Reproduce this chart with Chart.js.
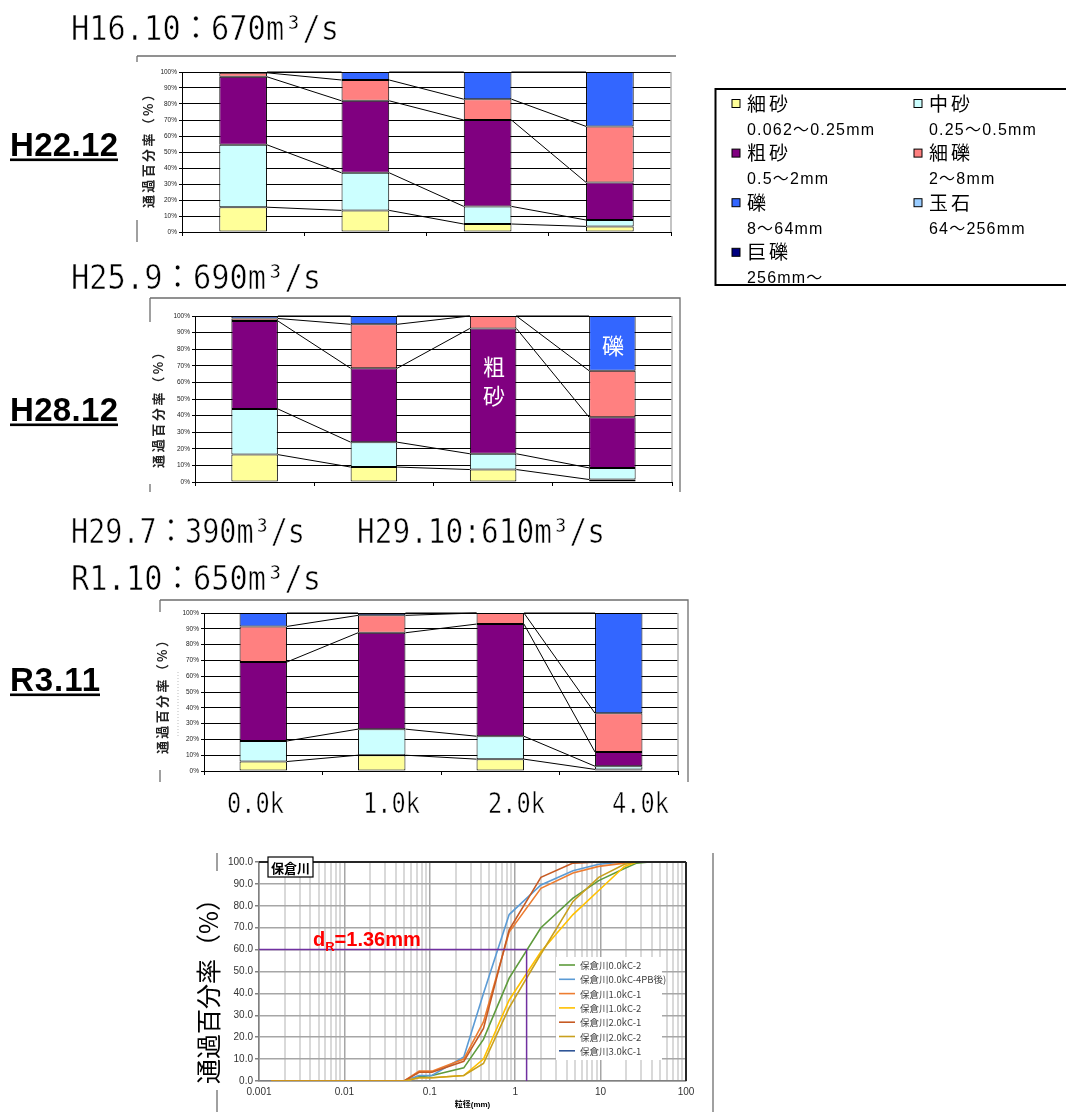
<!DOCTYPE html>
<html lang="ja">
<head>
<meta charset="utf-8">
<title>保倉川 河床材料の粒度構成</title>
<script src="https://cdn.jsdelivr.net/npm/chart.js@4.4.1/dist/chart.umd.min.js"></script>
<style>
  html, body { margin: 0; padding: 0; background: #fff; }
  #page { position: relative; width: 1066px; height: 1112px; overflow: hidden; background: #fff; }
  #page canvas { position: absolute; }
  #overlay { position: absolute; left: 0; top: 0; }
</style>
</head>
<body>
<div id="page">
  <canvas id="mixH22" width="540" height="186" style="left:140px;top:62px"></canvas>
  <canvas id="mixH28" width="530" height="188" style="left:150px;top:304px"></canvas>
  <canvas id="mixR3" width="526" height="182" style="left:160px;top:602px"></canvas>
  <canvas id="grading" width="492" height="262" style="left:220px;top:850px"></canvas>

  <svg id="overlay" width="1066" height="1112" xmlns="http://www.w3.org/2000/svg">
    <!-- 出水の見出し (白い縁で字を少し細く見せる) -->
    <g font-family="'DejaVu Sans Mono', 'Noto Sans CJK JP', monospace" font-size="34" fill="#000"
       stroke="#fff" stroke-width="0.6">
      <text x="71" y="40" textLength="268" lengthAdjust="spacingAndGlyphs">H16.10：670m³/s</text>
      <text x="71" y="289" textLength="250" lengthAdjust="spacingAndGlyphs">H25.9：690m³/s</text>
      <text x="71" y="543" textLength="234" lengthAdjust="spacingAndGlyphs">H29.7：390m³/s</text>
      <text x="357" y="543" textLength="248" lengthAdjust="spacingAndGlyphs">H29.10:610m³/s</text>
      <text x="71" y="590" textLength="250" lengthAdjust="spacingAndGlyphs">R1.10：650m³/s</text>
    </g>

    <!-- 調査時期 -->
    <g font-family="'Liberation Sans', Arial, sans-serif" font-weight="bold" font-size="33" fill="#000">
      <text x="10" y="156" textLength="108" lengthAdjust="spacing">H22.12</text>
      <rect x="10" y="158.5" width="108" height="2.6"/>
      <text x="10" y="421" textLength="108" lengthAdjust="spacing">H28.12</text>
      <rect x="10" y="423.5" width="108" height="2.6"/>
      <text x="10" y="691" textLength="90" lengthAdjust="spacing">R3.11</text>
      <rect x="10" y="693.5" width="90" height="2.6"/>
    </g>

    <!-- グラフ枠 -->
    <g stroke="#6e6e6e" stroke-width="1.3" fill="none">
      <path d="M137,56 H676 M137,56 V62 M137,220 V242"/>
      <path d="M150,298 H680 V492 M150,298 V322 M150,484 V492"/>
      <path d="M160,600 H688 V782 M160,600 V612 M160,770 V782"/>
      <path d="M217,853 V871 M217,1090 V1112 M713,853 V1112"/>
    </g>
    <line x1="178" y1="672" x2="178" y2="738" stroke="#bbb" stroke-width="1" stroke-dasharray="1,2"/>

    <!-- 縦軸タイトル -->
    <g font-family="'Noto Sans CJK JP', sans-serif" font-weight="bold" font-size="13" fill="#222"
       text-anchor="middle" dominant-baseline="central">
      <text transform="translate(147,148) rotate(-90)" textLength="120" lengthAdjust="spacing">通過百分率（%）</text>
      <text transform="translate(157,407) rotate(-90)" textLength="122" lengthAdjust="spacing">通過百分率（%）</text>
      <text transform="translate(161,694) rotate(-90)" textLength="120" lengthAdjust="spacing">通過百分率（%）</text>
    </g>
    <text transform="translate(207,985) rotate(-90)" font-family="'Noto Sans CJK JP', sans-serif" font-size="25"
          fill="#000" text-anchor="middle" dominant-baseline="central" textLength="198" lengthAdjust="spacing">通過百分率（%）</text>

    <!-- 棒の中の区分名 -->
    <g font-family="'Noto Sans CJK JP', sans-serif" font-size="22" fill="#fff" text-anchor="middle" dominant-baseline="central">
      <text x="494" y="365">粗</text>
      <text x="494" y="394">砂</text>
      <text x="613" y="344">礫</text>
    </g>

    <!-- 地点 -->
    <g id="siteLabels" font-family="'DejaVu Sans Mono', monospace" font-size="29" fill="#000"
       stroke="#fff" stroke-width="0.5"></g>

    <!-- 粒径区分の凡例 -->
    <rect x="715.5" y="89" width="360" height="196" fill="#fff" stroke="#000" stroke-width="2"/>
    <g id="classLegend" font-family="'Liberation Sans', 'Noto Sans CJK JP', sans-serif" fill="#000"></g>

    <!-- 粒径加積曲線のタイトルと凡例 -->
    <rect x="268" y="857" width="45" height="20" fill="#fff" stroke="#000" stroke-width="1.2"/>
    <text x="290.5" y="867.5" font-family="'Noto Sans CJK JP', sans-serif" font-weight="bold" font-size="13"
          text-anchor="middle" dominant-baseline="central" fill="#000">保倉川</text>
    <rect x="556" y="957" width="106" height="103" fill="#fff"/>
    <g id="curveLegend" font-family="'Noto Sans CJK JP', sans-serif" font-size="9.5" fill="#404040"></g>
  </svg>
</div>

<script>
// 地点(距離標)
const sites = ['0.0k', '1.0k', '2.0k', '4.0k'];
const siteLabelX = [227, 363, 488, 612];

// 粒径区分
const classNames = ['細砂', '中砂', '粗砂', '細礫', '礫', '玉石', '巨礫'];
const classRanges = ['0.062～0.25mm', '0.25～0.5mm', '0.5～2mm', '2～8mm', '8～64mm', '64～256mm', '256mm～'];
const classColors = ['#FFFF99', '#CCFFFF', '#800080', '#FF8080', '#3366FF', '#99CCFF', '#000080'];

// 区分ごとの構成比(%)  行: 細砂, 中砂, 粗砂, 細礫, 礫 / 列: 0.0k, 1.0k, 2.0k, 4.0k
const mixH22 = [
  [15.5, 13.5, 5, 3.5],
  [39, 23.5, 11, 4],
  [42.5, 45, 54, 23.5],
  [2.5, 13, 13, 35],
  [0.5, 5, 17, 34]
];
const mixH28 = [
  [16.5, 9, 7.5, 1.5],
  [27.5, 15, 9.5, 7],
  [53, 44.5, 75.5, 30.5],
  [1.5, 26.5, 7.5, 28],
  [1.5, 5, 0, 33]
];
const mixR3 = [
  [6, 10, 7.5, 1],
  [13, 16.5, 14.5, 2],
  [50, 61, 71, 9],
  [22.5, 11, 7, 24.5],
  [8.5, 1.5, 0, 63.5]
];

// 粒径加積曲線  ふるい目(mm) と 通過百分率(%)
const sieveMm = [0.0014, 0.05, 0.075, 0.106, 0.25, 0.425, 0.85, 2, 4.75, 9.5, 19, 26.5, 37.5, 53, 75];
const pass00C2 = [0, 0, 2, 2.5, 6, 19, 47, 70, 83.5, 91.5, 97, 99.5, 100, 100, 100];
const pass00C4 = [0, 0, 2.5, 2.5, 11, 40, 76, 89.5, 96, 99, 100, 100, 100, 100, 100];
const pass10C1 = [0, 0, 4.5, 4.5, 10, 27, 68, 88, 95, 98, 99.5, 100, 100, 100, 100];
const pass10C2 = [0, 0, 1.5, 1.5, 2.5, 10, 37, 59, 76, 87, 98, 100, 100, 100, 100];
const pass20C1 = [0, 0, 4, 4, 9, 24, 69, 93, 99.5, 100, 100, 100, 100, 100, 100];
const pass20C2 = [0, 0, 1.5, 1.5, 2.5, 8, 33.5, 58, 82, 93, 99, 100, 100, 100, 100];
const pass30C1 = [];
const curveNames = ['保倉川0.0kC-2', '保倉川0.0kC-4PB後)', '保倉川1.0kC-1', '保倉川1.0kC-2', '保倉川2.0kC-1', '保倉川2.0kC-2', '保倉川3.0kC-1'];
const curveValues = [pass00C2, pass00C4, pass10C1, pass10C2, pass20C1, pass20C2, pass30C1];
const curveColors = ['#5E9B3C', '#5B9BD5', '#ED7D31', '#FFC000', '#C65A23', '#C9A01E', '#2F5597'];

// 代表粒径 dR
const dR = 1.36;
const dRPercent = 60;

Chart.defaults.font.family = "'Liberation Sans', Arial, 'Noto Sans CJK JP', sans-serif";
Chart.defaults.color = '#222';

// 隣り合う棒の同じ区分の上端を結ぶ線
const seriesLines = {
  id: 'seriesLines',
  afterDatasetsDraw(chart) {
    const ctx = chart.ctx;
    ctx.save();
    ctx.strokeStyle = '#000';
    ctx.lineWidth = 1;
    chart.data.datasets.forEach((ds, i) => {
      const bars = chart.getDatasetMeta(i).data;
      for (let j = 0; j < bars.length - 1; j++) {
        const a = bars[j], b = bars[j + 1];
        ctx.beginPath();
        ctx.moveTo(a.x + a.width / 2, a.y);
        ctx.lineTo(b.x - b.width / 2, b.y);
        ctx.stroke();
      }
    });
    ctx.restore();
  }
};

// プロット領域の上辺・右辺
const plotEdges = {
  id: 'plotEdges',
  afterDraw(chart, args, opts) {
    const { left, right, top, bottom } = chart.chartArea;
    const ctx = chart.ctx;
    ctx.save();
    ctx.strokeStyle = opts.color || '#000';
    ctx.lineWidth = opts.width || 1;
    ctx.beginPath();
    if (opts.top) {
      ctx.moveTo(left, top);
      ctx.lineTo(right, top);
    }
    ctx.moveTo(right, top);
    ctx.lineTo(right, bottom);
    ctx.stroke();
    ctx.restore();
  }
};

// dR の位置を示す線と注記
const passMarker = {
  id: 'passMarker',
  afterDatasetsDraw(chart, args, opts) {
    const xs = chart.scales.x, ys = chart.scales.y;
    const px = xs.getPixelForValue(opts.size);
    const py = ys.getPixelForValue(opts.percent);
    const ctx = chart.ctx;
    ctx.save();
    ctx.strokeStyle = '#7030A0';
    ctx.lineWidth = 1.5;
    ctx.beginPath();
    ctx.moveTo(xs.left, py);
    ctx.lineTo(px, py);
    ctx.lineTo(px, ys.bottom);
    ctx.stroke();

    let x = xs.left + 54;
    const base = py - 4;
    ctx.fillStyle = '#FF0000';
    ctx.textBaseline = 'alphabetic';
    ctx.font = "bold 20px 'Liberation Sans', Arial, sans-serif";
    ctx.fillText('d', x, base);
    x += ctx.measureText('d').width;
    ctx.font = "bold 13px 'Liberation Sans', Arial, sans-serif";
    ctx.fillText('R', x, base + 5);
    x += ctx.measureText('R').width;
    ctx.font = "bold 20px 'Liberation Sans', Arial, sans-serif";
    ctx.fillText('=' + opts.size + 'mm', x, base);
    ctx.restore();
  }
};

function mixChart(id, rows, yWidth, xHeight, padTop, padRight, barPct) {
  return new Chart(document.getElementById(id), {
    type: 'bar',
    data: {
      labels: sites,
      datasets: rows.map((vals, i) => ({
        label: classNames[i],
        data: vals,
        backgroundColor: classColors[i],
        borderColor: '#000',
        borderWidth: 1,
        borderSkipped: false,
        barPercentage: barPct,
        categoryPercentage: 1
      }))
    },
    options: {
      responsive: false,
      animation: false,
      layout: { padding: { top: padTop, right: padRight, left: 0, bottom: 0 } },
      plugins: {
        legend: { display: false },
        tooltip: { enabled: false },
        plotEdges: { color: '#b0b0b0', width: 1.5, top: false }
      },
      scales: {
        x: {
          stacked: true,
          offset: true,
          ticks: { display: false },
          grid: { offset: true, drawOnChartArea: false, drawTicks: true, tickLength: 4, color: '#000' },
          border: { color: '#000', width: 1 },
          afterFit: (s) => { s.height = xHeight; }
        },
        y: {
          stacked: true,
          min: 0,
          max: 100,
          ticks: {
            stepSize: 10,
            padding: 2,
            color: '#222',
            font: { size: 6.5 },
            callback: (v) => v + '%'
          },
          grid: { color: '#000', lineWidth: 1, tickLength: 3 },
          border: { color: '#000', width: 1 },
          afterFit: (s) => { s.width = yWidth; }
        }
      }
    },
    plugins: [seriesLines, plotEdges]
  });
}

mixChart('mixH22', mixH22, 42, 16, 10, 9, 0.39);
mixChart('mixH28', mixH28, 45, 10, 12, 8, 0.39);
mixChart('mixR3', mixR3, 44, 13, 11, 8, 0.40);

// 粒径加積曲線
new Chart(document.getElementById('grading'), {
  type: 'line',
  data: {
    datasets: curveValues.map((vals, i) => ({
      label: curveNames[i],
      data: vals.map((p, k) => ({ x: sieveMm[k], y: p })),
      borderColor: curveColors[i],
      borderWidth: 1.6,
      pointRadius: 0,
      tension: 0,
      fill: false,
      order: curveValues.length - i
    }))
  },
  options: {
    responsive: false,
    animation: false,
    layout: { padding: { top: 12, right: 26, left: 0, bottom: 0 } },
    plugins: {
      legend: { display: false },
      tooltip: { enabled: false },
      plotEdges: { color: '#262626', width: 2, top: true },
      passMarker: { size: dR, percent: dRPercent }
    },
    scales: {
      x: {
        type: 'logarithmic',
        min: 0.001,
        max: 100,
        afterBuildTicks: (scale) => {
          const ticks = [];
          for (let e = -3; e < 2; e++) {
            for (let k = 1; k < 10; k++) {
              ticks.push({ value: Number((k * Math.pow(10, e)).toPrecision(3)), major: k === 1 });
            }
          }
          ticks.push({ value: 100, major: true });
          scale.ticks = ticks;
        },
        ticks: {
          autoSkip: false,
          maxRotation: 0,
          padding: 5,
          color: '#333',
          font: { size: 10 },
          callback: (v, i, ticks) => (ticks[i].major ? String(v) : '')
        },
        grid: {
          drawTicks: false,
          color: (c) => (c.tick && c.tick.major ? '#a6a6a6' : '#d9d9d9'),
          lineWidth: (c) => (c.tick && c.tick.major ? 1.5 : 2)
        },
        border: { color: '#808080', width: 1.5 },
        title: {
          display: true,
          text: '粒径(mm)',
          color: '#000',
          font: { size: 8, weight: 'bold' },
          padding: { top: 0, bottom: 2 }
        },
        afterFit: (s) => { s.height = 31; }
      },
      y: {
        min: 0,
        max: 100,
        ticks: {
          stepSize: 10,
          padding: 2,
          color: '#333',
          font: { size: 10 },
          callback: (v) => v.toFixed(1)
        },
        grid: { color: '#a6a6a6', lineWidth: 1.5, tickLength: 4, tickColor: '#808080' },
        border: { color: '#808080', width: 1.5 },
        afterFit: (s) => { s.width = 39; }
      }
    }
  },
  plugins: [plotEdges, passMarker]
});

// SVG 側の文字と凡例
const NS = 'http://www.w3.org/2000/svg';
function svgEl(parent, tag, attrs, text) {
  const el = document.createElementNS(NS, tag);
  Object.entries(attrs).forEach(([k, v]) => el.setAttribute(k, v));
  if (text !== undefined) el.textContent = text;
  parent.appendChild(el);
  return el;
}

const siteGroup = document.getElementById('siteLabels');
sites.forEach((s, i) => {
  svgEl(siteGroup, 'text', { x: siteLabelX[i], y: 813, textLength: 57, lengthAdjust: 'spacingAndGlyphs' }, s);
});

const classGroup = document.getElementById('classLegend');
classNames.forEach((name, i) => {
  const col = i % 2, row = Math.floor(i / 2);
  const x = col === 0 ? 732 : 914;
  const y = 104 + row * 49.6;
  svgEl(classGroup, 'rect', { x: x, y: y - 4.5, width: 8, height: 8, fill: classColors[i], stroke: '#000', 'stroke-width': 1 });
  svgEl(classGroup, 'text', {
    x: x + 15, y: y, 'font-size': 19, 'dominant-baseline': 'central',
    textLength: name.length * 20.5, lengthAdjust: 'spacing'
  }, name);
  svgEl(classGroup, 'text', {
    x: x + 15, y: y + 25, 'font-size': 16, 'dominant-baseline': 'central', 'letter-spacing': 1.2
  }, classRanges[i]);
});

const curveGroup = document.getElementById('curveLegend');
curveNames.forEach((name, i) => {
  const y = 965 + i * 14.3;
  svgEl(curveGroup, 'line', { x1: 559, y1: y, x2: 575, y2: y, stroke: curveColors[i], 'stroke-width': 1.6 });
  svgEl(curveGroup, 'text', { x: 580, y: y, 'dominant-baseline': 'central' }, name);
});
</script>
</body>
</html>
